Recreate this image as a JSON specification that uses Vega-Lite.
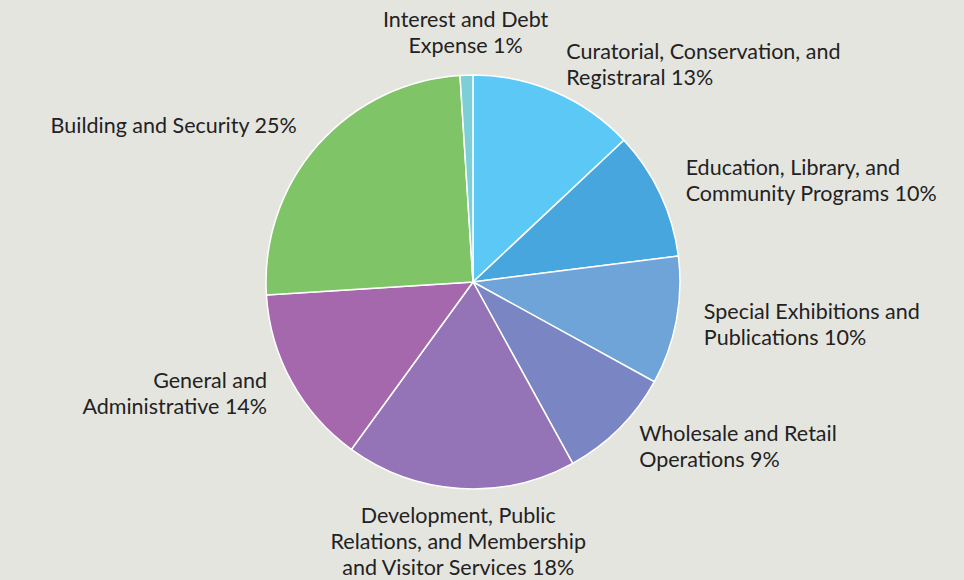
{
  "$schema": "https://vega.github.io/schema/vega-lite/v6.json",
  "width": 946,
  "height": 564,
  "autosize": "none",
  "padding": {"left": 0, "top": 0, "right": 18, "bottom": 16},
  "background": "#e5e5e0",
  "view": {"stroke": null},
  "data": {
    "values": [
      {"rank": 1, "category": "Curatorial, Conservation, and\nRegistraral 13%", "value": 13},
      {"rank": 2, "category": "Education, Library, and\nCommunity Programs 10%", "value": 10},
      {"rank": 3, "category": "Special Exhibitions and\nPublications 10%", "value": 10},
      {"rank": 4, "category": "Wholesale and Retail\nOperations 9%", "value": 9},
      {"rank": 5, "category": "Development, Public\nRelations, and Membership\nand Visitor Services 18%", "value": 18},
      {"rank": 6, "category": "General and\nAdministrative 14%", "value": 14},
      {"rank": 7, "category": "Building and Security 25%", "value": 25},
      {"rank": 8, "category": "Interest and Debt\nExpense 1%", "value": 1}
    ]
  },
  "encoding": {
    "theta": {"field": "value", "type": "quantitative", "stack": true},
    "order": {"field": "rank", "type": "quantitative"}
  },
  "layer": [
    {
      "mark": {"type": "arc", "outerRadius": 207, "stroke": "white", "strokeWidth": 1.5},
      "encoding": {
        "color": {
          "field": "category",
          "type": "nominal",
          "sort": null,
          "legend": null,
          "scale": {
            "domain": [
              "Curatorial, Conservation, and\nRegistraral 13%",
              "Education, Library, and\nCommunity Programs 10%",
              "Special Exhibitions and\nPublications 10%",
              "Wholesale and Retail\nOperations 9%",
              "Development, Public\nRelations, and Membership\nand Visitor Services 18%",
              "General and\nAdministrative 14%",
              "Building and Security 25%",
              "Interest and Debt\nExpense 1%"
            ],
            "range": ["#5bc8f5", "#48a6de", "#6fa4d9", "#7a85c3", "#9474b6", "#a668ac", "#7fc466", "#7ccfd6"]
          }
        }
      }
    },
    {
      "mark": {
        "type": "text",
        "radius": 235,
        "font": "Lato",
        "fontSize": 21.5,
        "lineHeight": 26,
        "lineBreak": "\n",
        "color": "#222222",
        "baseline": "middle",
        "dy": {"expr": "((datum.value_start + datum.value_end) / 2) >= 46 && ((datum.value_start + datum.value_end) / 2) <= 54 ? 0 : (((datum.value_start + datum.value_end) / 2) < 4 || ((datum.value_start + datum.value_end) / 2) > 96 ? -26 * (length(split(datum.category, '\\n')) - 1) : -13 * (length(split(datum.category, '\\n')) - 1))"},
        "align": {"expr": "((datum.value_start + datum.value_end) / 2) > 4 && ((datum.value_start + datum.value_end) / 2) < 46 ? 'left' : (((datum.value_start + datum.value_end) / 2) > 54 && ((datum.value_start + datum.value_end) / 2) < 96 ? 'right' : 'center')"}
      },
      "encoding": {
        "text": {"field": "category", "type": "nominal"}
      }
    }
  ]
}
